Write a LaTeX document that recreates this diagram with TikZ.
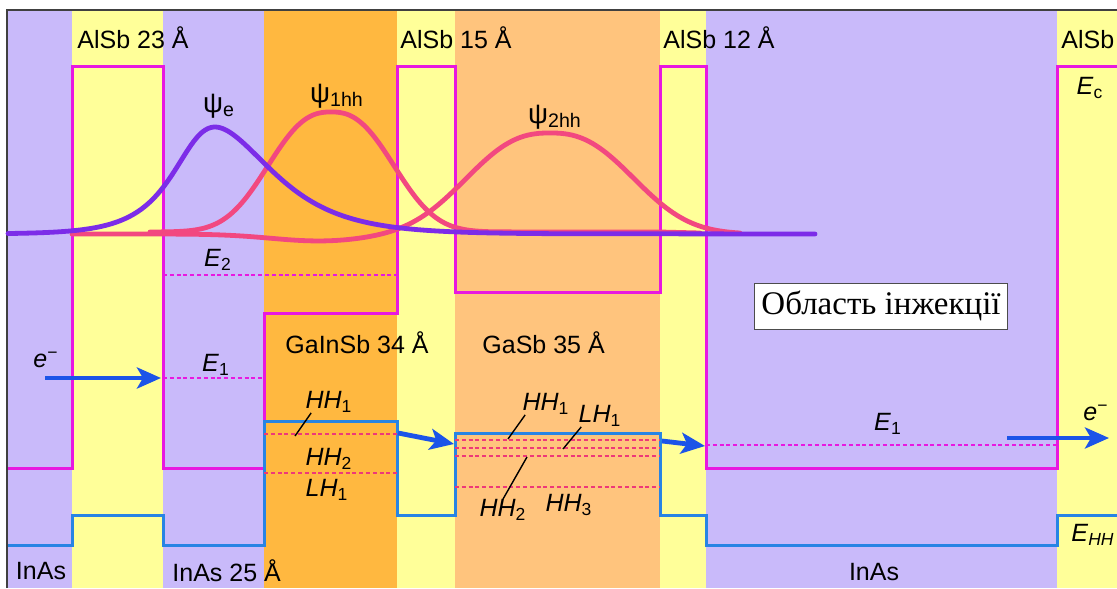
\documentclass[tikz,border=0pt]{standalone}
\usepackage{fontspec}
\setmainfont{Liberation Sans}
\newfontfamily\boxfont{Liberation Serif}
\usetikzlibrary{arrows.meta}

\definecolor{inasbg}{RGB}{201,186,250}
\definecolor{alsbbg}{RGB}{255,255,153}
\definecolor{gainsbbg}{RGB}{255,184,64}
\definecolor{gasbbg}{RGB}{255,196,125}
\definecolor{cband}{RGB}{232,24,224}
\definecolor{vband}{RGB}{40,132,228}
\definecolor{flow}{RGB}{28,84,232}
\definecolor{psie}{RGB}{124,44,232}
\definecolor{psih}{RGB}{242,72,128}
\definecolor{hlevel}{RGB}{238,56,120}

\begin{document}
\begin{tikzpicture}[x=0.5pt, y=-0.5pt,
  font=\fontsize{12.5}{15}\selectfont,
  band/.style={line width=1.5pt},
  level/.style={dash pattern=on 2pt off 1.4pt, line width=0.7pt},
  wave/.style={line width=2.4pt, line cap=round, line join=round},
  arr/.style={-{Stealth[length=12pt, width=10.5pt, inset=3pt]}, line width=2.4pt, flow},
  lbl/.style={inner sep=0pt},
  psilbl/.style={inner sep=0pt, font=\fontsize{14}{16}\selectfont},
  tick/.style={line width=0.7pt}
]
\useasboundingbox (0,0) rectangle (1117,588);
\fill[white] (0,0) rectangle (1117,588);
\foreach \xa/\xb/\c in {8/72/inasbg, 72/163/alsbbg, 163/264/inasbg,
    264/397/gainsbbg, 397/455/alsbbg, 455/660/gasbbg, 660/706/alsbbg,
    706/1057/inasbg, 1057/1117/alsbbg}
  \fill[\c] (\xa,10) rectangle (\xb,588);
\draw[black!75, line width=1pt] (7,588) -- (7,10) -- (1117,10);

\draw[band, cband] (8,468) -| (72,67) -| (163,468) -| (264,313) -| (397,67)
  -| (455,292) -| (660,67) -| (706,468) -| (1057,67) -- (1117,67);
\draw[band, vband] (8,545) -| (72,515) -| (163,545) -| (264,421) -| (397,515)
  -| (455,433) -| (660,515) -| (706,545) -| (1057,515) -- (1117,515);

\draw[level, cband] (163,275) -- (397,275);
\draw[level, cband] (163,378) -- (264,378);
\draw[level, cband] (706,445) -- (1057,445);
\foreach \y in {434,473}
  \draw[level, hlevel] (264,\y) -- (397,\y);
\foreach \y in {440,448,456,487}
  \draw[level, hlevel] (455,\y) -- (660,\y);

\draw[wave, psih] plot[domain=72:740, samples=200]
  (\x, {234+7*exp(-min(((\x-320)/70)^2,20))-101*exp(-min(abs(\x-550)/103,2.5)^2.5)});
\draw[wave, psih] plot[domain=150:500, samples=150]
  (\x, {232-120*exp(-min(abs(\x-331)/77.6,3)^2.5)}) -- (660,232) -- (700,233);
\draw[wave, psie] plot[domain=8:560, samples=200]
  (\x, {234-107/cosh((\x-215)/(43+9*tanh((\x-215)/40)))}) -- (815,234);

\coordinate (ein) at (45,378);
\coordinate (ewell) at (161,378);
\coordinate (hhout) at (398,433);
\coordinate (hhin) at (454,444);
\coordinate (gsout) at (662,441);
\coordinate (injin) at (705,446);
\coordinate (eleave) at (1007,438);
\coordinate (eout) at (1109,438);
\draw[arr] (ein) -- (ewell);
\draw[arr] (hhout) -- (hhin);
\draw[arr] (gsout) -- (injin);
\draw[arr] (eleave) -- (eout);

\node[lbl, anchor=west] (alsbA) at (77,38) {AlSb 23 Å};
\node[lbl, anchor=west] (alsbB) at (400,38) {AlSb 15 Å};
\node[lbl, anchor=west] (alsbC) at (663,38) {AlSb 12 Å};
\node[lbl, anchor=west] (alsbD) at (1061,40) {AlSb};
\node[lbl, anchor=west] (gainsb) at (285,343) {GaInSb 34 Å};
\node[lbl, anchor=west] (gasb) at (482,343) {GaSb 35 Å};
\node[lbl] (inasL) at (41,571) {InAs};
\node[lbl, anchor=west] (inasM) at (172,571) {InAs 25 Å};
\node[lbl] (inasR) at (874,572) {InAs};

\node[psilbl] (psiE) at (219,106) {ψ\textsubscript{e}};
\node[psilbl] (psiA) at (337,96) {ψ\textsubscript{1hh}};
\node[psilbl] (psiB) at (555,117) {ψ\textsubscript{2hh}};
\node[lbl] (ectwo) at (218,260) {\textit{E}\textsubscript{2}};
\node[lbl] (econe) at (216,365) {\textit{E}\textsubscript{1}};
\node[lbl] (econeR) at (888,424) {\textit{E}\textsubscript{1}};
\node[lbl] (ecedge) at (1090,88) {\textit{E}\textsubscript{c}};
\node[lbl] (ehh) at (1093,535) {\textit{E}\textsubscript{\textit{HH}}};
\node[lbl] (elecL) at (46,360) {\textit{e}\textsuperscript{−}};
\node[lbl] (elecR) at (1096,413) {\textit{e}\textsuperscript{−}};

\node[lbl] (hhA) at (329,402) {\textit{HH}\textsubscript{1}};
\node[lbl] (hhB) at (329,459) {\textit{HH}\textsubscript{2}};
\node[lbl] (lhA) at (327,490) {\textit{LH}\textsubscript{1}};
\node[lbl] (hhC) at (546,404) {\textit{HH}\textsubscript{1}};
\node[lbl] (lhB) at (600,416) {\textit{LH}\textsubscript{1}};
\node[lbl] (hhD) at (503,510) {\textit{HH}\textsubscript{2}};
\node[lbl] (hhE) at (569,505) {\textit{HH}\textsubscript{3}};
\coordinate (tA) at (295,436);
\coordinate (tC) at (508,439);
\coordinate (tB) at (563,449);
\coordinate (tD) at (527,457);
\draw[tick] ([xshift=3pt]hhA.south west) -- (tA);
\draw[tick] ([xshift=1.5pt]hhC.south west) -- (tC);
\draw[tick] ([xshift=1.5pt]lhB.south west) -- (tB);
\draw[tick] (hhD.north) -- (tD);

\node[draw=black!70, fill=white, line width=0.5pt, inner xsep=3.5pt,
  inner ysep=0pt, minimum height=23pt, font=\boxfont\fontsize{16.5}{18}\selectfont]
  (injection) at (881,306) {Область інжекції};
\end{tikzpicture}
\end{document}
